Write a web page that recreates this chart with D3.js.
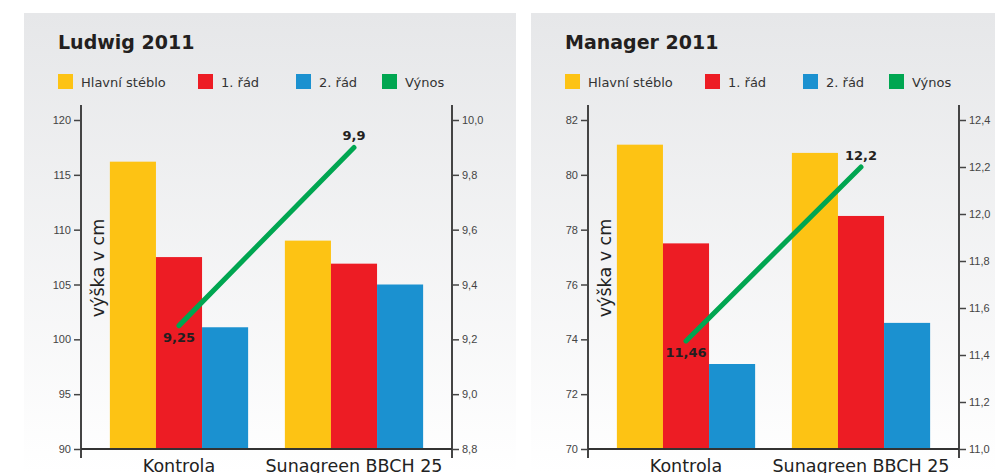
<!DOCTYPE html>
<html>
<head>
<meta charset="utf-8">
<script src="https://cdn.jsdelivr.net/npm/d3@7"></script>
<style>
  body { margin: 0; background: #fff; }
  svg { display: block; font-family: "DejaVu Sans", Verdana, sans-serif; }
  .tick text { fill: #444; font-size: 11px; }
  .tick line { stroke: #444; stroke-width: 1.5; }
</style>
</head>
<body>
<div id="chart"></div>
<script>
// Data
const categories = ['Kontrola', 'Sunagreen BBCH 25'];
const seriesNames = ['Hlavní stéblo', '1. řád', '2. řád'];
const lineName = 'Výnos';
const seriesColors = ['#fdc314', '#ed1c24', '#1b91d0'];
const lineColor = '#00a651';

// Ludwig 2011
const ludwigHeights = [[116.2, 107.5, 101.1], [109.0, 106.9, 105.0]];
const ludwigYield = [9.25, 9.9];
const ludwigLeftTicks = [90, 95, 100, 105, 110, 115, 120];
const ludwigRightTicks = [8.8, 9.0, 9.2, 9.4, 9.6, 9.8, 10.0];

// Manager 2011
const managerHeights = [[81.1, 77.5, 73.1], [80.8, 78.5, 74.6]];
const managerYield = [11.46, 12.2];
const managerLeftTicks = [70, 72, 74, 76, 78, 80, 82];
const managerRightTicks = [11.0, 11.2, 11.4, 11.6, 11.8, 12.0, 12.2, 12.4];

let svgWidth = 995;
let svgHeight = 473;

let svg = d3.select('#chart').append('svg')
  .attr('width', svgWidth)
  .attr('height', svgHeight);

// background gradient
let grad = svg.append('defs').append('linearGradient')
  .attr('id', 'bg')
  .attr('x1', 0).attr('y1', 0).attr('x2', 0).attr('y2', 1);
grad.append('stop').attr('offset', '0%').attr('stop-color', '#e6e7e9');
grad.append('stop').attr('offset', '100%').attr('stop-color', '#ffffff');

let commaFmt = d => d3.format('.1f')(d).replace('.', ',');
let labelFmt = d => String(d).replace('.', ',');

function drawPanel(ox, title, heights, yields, leftTicks, rightTicks) {
  let g = svg.append('g').attr('transform', `translate(${ox}, 0)`);

  g.append('rect')
    .attr('x', 24).attr('y', 13)
    .attr('width', 492).attr('height', 460)
    .attr('fill', 'url(#bg)');

  // title
  g.append('text')
    .attr('x', 58).attr('y', 49)
    .attr('font-size', '19px')
    .attr('font-weight', 'bold')
    .attr('fill', '#231f20')
    .text(title);

  // legend
  let legendItems = seriesNames.map((n, i) => ({ name: n, color: seriesColors[i] }))
    .concat([{ name: lineName, color: lineColor }]);
  let legendX = [58, 198, 296, 382];
  let legend = g.selectAll('.legend')
    .data(legendItems)
    .enter()
    .append('g')
    .attr('transform', (d, i) => `translate(${legendX[i]}, 74)`);
  legend.append('rect')
    .attr('width', 15).attr('height', 15)
    .attr('fill', d => d.color);
  legend.append('text')
    .attr('x', 23).attr('y', 12.5)
    .attr('font-size', '13px')
    .attr('fill', '#333')
    .text(d => d.name);

  // scales
  let axisL = 81, axisR = 452, top = 120, bottom = 449;
  let x0 = d3.scaleBand()
    .domain(categories)
    .range([axisL, axisR])
    .paddingInner(0.21)
    .paddingOuter(0.165);
  let x1 = d3.scaleBand()
    .domain(seriesNames)
    .range([0, x0.bandwidth()]);
  let y = d3.scaleLinear()
    .domain([leftTicks[0], leftTicks[leftTicks.length - 1]])
    .range([bottom, top]);
  let yR = d3.scaleLinear()
    .domain([rightTicks[0], rightTicks[rightTicks.length - 1]])
    .range([bottom, top]);

  // bars
  let groups = g.selectAll('.group')
    .data(categories)
    .enter()
    .append('g')
    .attr('transform', d => `translate(${x0(d)}, 0)`);
  groups.selectAll('rect')
    .data((d, i) => heights[i].map((v, j) => ({ key: seriesNames[j], value: v })))
    .enter()
    .append('rect')
    .attr('x', d => x1(d.key))
    .attr('width', x1.bandwidth())
    .attr('y', d => y(d.value))
    .attr('height', d => bottom - y(d.value))
    .attr('fill', (d, j) => seriesColors[j]);

  // axes
  let leftAxis = d3.axisLeft(y).tickValues(leftTicks).tickSize(7).tickPadding(3)
    .tickFormat(d3.format('d'));
  let rightAxis = d3.axisRight(yR).tickValues(rightTicks).tickSize(7).tickPadding(3)
    .tickFormat(commaFmt);
  g.append('g').attr('transform', `translate(${axisL}, 0)`).call(leftAxis)
    .call(a => a.select('.domain').remove());
  g.append('g').attr('transform', `translate(${axisR}, 0)`).call(rightAxis)
    .call(a => a.select('.domain').remove());

  [axisL, axisR].forEach(ax => {
    g.append('line')
      .attr('x1', ax).attr('x2', ax)
      .attr('y1', 105).attr('y2', 458)
      .attr('stroke', '#444').attr('stroke-width', 2);
  });
  g.append('line')
    .attr('x1', axisL).attr('x2', axisR)
    .attr('y1', bottom).attr('y2', bottom)
    .attr('stroke', '#333').attr('stroke-width', 2);

  // category labels
  g.selectAll('.cat')
    .data(categories)
    .enter()
    .append('text')
    .attr('x', d => x0(d) + x0.bandwidth() / 2)
    .attr('y', 472)
    .attr('text-anchor', 'middle')
    .attr('font-size', '17.5px')
    .attr('fill', '#222')
    .text(d => d);

  // y title
  g.append('text')
    .attr('transform', 'translate(104, 268) rotate(-90)')
    .attr('text-anchor', 'middle')
    .attr('font-size', '17.5px')
    .attr('fill', '#222')
    .text('výška v cm');

  // yield line
  let pts = yields.map((v, i) => ({ x: x0(categories[i]) + x0.bandwidth() / 2, y: yR(v), v: v }));
  g.append('path')
    .datum(pts)
    .attr('d', d3.line().x(d => d.x).y(d => d.y))
    .attr('fill', 'none')
    .attr('stroke', lineColor)
    .attr('stroke-width', 5)
    .attr('stroke-linecap', 'round');

  g.selectAll('.vlabel')
    .data(pts)
    .enter()
    .append('text')
    .attr('x', d => d.x)
    .attr('y', (d, i) => i === 0 ? d.y + 16 : d.y - 7)
    .attr('text-anchor', 'middle')
    .attr('font-size', '13px')
    .attr('font-weight', 'bold')
    .attr('fill', '#231f20')
    .text(d => labelFmt(d.v));
}

drawPanel(0, 'Ludwig 2011', ludwigHeights, ludwigYield, ludwigLeftTicks, ludwigRightTicks);
drawPanel(507, 'Manager 2011', managerHeights, managerYield, managerLeftTicks, managerRightTicks);
</script>
</body>
</html>
